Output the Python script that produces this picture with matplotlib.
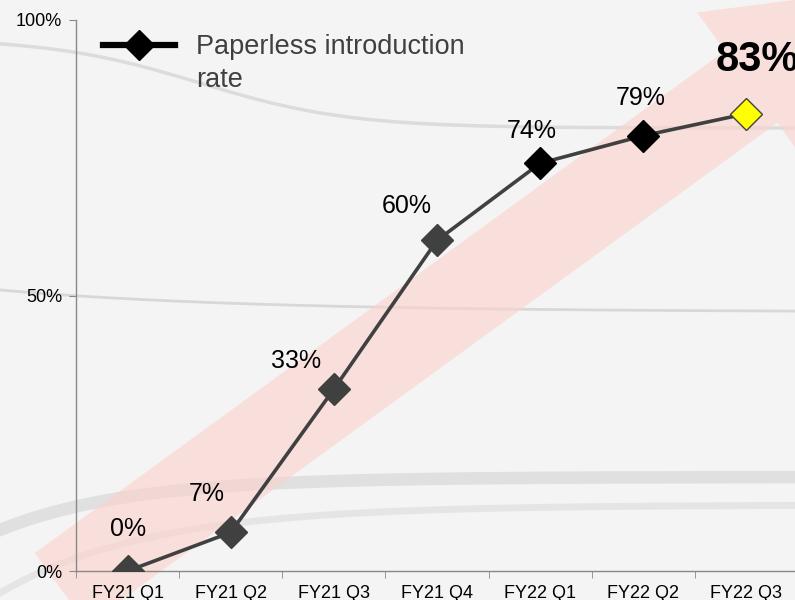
import numpy as np
import matplotlib
matplotlib.use('Agg')
import matplotlib.pyplot as plt
from matplotlib.patches import FancyArrow
from matplotlib.lines import Line2D

plt.rcParams['font.family'] = ['Liberation Sans', 'DejaVu Sans']

# Datos
quarters = ['FY21 Q1', 'FY21 Q2', 'FY21 Q3', 'FY21 Q4', 'FY22 Q1', 'FY22 Q2', 'FY22 Q3']
rate = [0, 7, 33, 60, 74, 79, 83]
series_lines = ['Paperless introduction', 'rate']

# Estilo de cada marcador y desplazamiento de etiquetas (en puntos)
face = ['#404040', '#404040', '#404040', '#404040', '#000000', '#000000', '#ffff00']
edge = ['#404040', '#404040', '#404040', '#404040', '#000000', '#000000', '#404040']
lab_dx = [0, -17, -27, -22, -6, -2, 8]
lab_dy = [30, 28, 20, 25, 23, 27, 39]

fig = plt.figure(figsize=(7.95, 6), dpi=100, facecolor='#f4f4f4')

# Fondo decorativo (curvas grises)
bg = fig.add_axes([0, 0, 1, 1], zorder=0)
bg.set_xlim(0, 795)
bg.set_ylim(600, 0)
bg.axis('off')
xs = np.linspace(0, 795, 300)
bg.plot(xs, 38 + 90 / (1 + np.exp(-(xs - 200) / 75)), color='#dcdcdc', lw=2.5)
bg.plot(xs, 290 + 22 * (1 - np.exp(-xs / 250)), color='#d8d8d8', lw=2)
bg.plot(xs, 477 + 53 * np.exp(-xs / 130), color='#dedede', lw=9, alpha=0.9)
bg.plot(xs, 505 + 88 * np.exp(-xs / 150), color='#e4e4e4', lw=5, alpha=0.9)

# Flecha rosa (en píxeles)
arrow = FancyArrow(61, 11, 826, 601, width=89, head_width=184, head_length=168,
                   length_includes_head=True, transform=None,
                   facecolor='#fcd2cc', edgecolor='none', alpha=0.6, zorder=1)
fig.patches.append(arrow)

ax = fig.add_axes([76 / 795, 29 / 600, 722 / 795, 551 / 600], zorder=2)
ax.patch.set_alpha(0)

x = np.arange(len(quarters))
y = np.array(rate) / 100
ax.plot(x, y, color='#404040', lw=2.6, zorder=3)
for i in range(len(x)):
    ax.plot(x[i], y[i], marker='D', ms=16, markerfacecolor=face[i],
            markeredgecolor=edge[i], markeredgewidth=1, zorder=4)
    if i == len(x) - 1:
        ax.annotate(f'{rate[i]}%', (x[i], y[i]), xytext=(lab_dx[i], lab_dy[i]),
                    textcoords='offset points', ha='center', va='center',
                    fontsize=30, fontweight='bold', color='black', zorder=5)
    else:
        ax.annotate(f'{rate[i]}%', (x[i], y[i]), xytext=(lab_dx[i], lab_dy[i]),
                    textcoords='offset points', ha='center', va='center',
                    fontsize=18, color='black', zorder=5)

ax.set_xlim(-0.5, len(quarters) - 0.5)
ax.set_ylim(0, 1)
ax.set_yticks([0, 0.5, 1])
ax.set_yticklabels(['0%', '50%', '100%'], fontsize=13)
ax.set_xticks(x)
ax.set_xticklabels(quarters, fontsize=13)
ax.set_xticks(np.arange(len(quarters) + 1) - 0.5, minor=True)
ax.tick_params(axis='x', which='major', length=0, pad=10)
ax.tick_params(axis='x', which='minor', length=5, color='#888888', direction='out')
ax.tick_params(axis='y', length=5, color='#888888', pad=5)
for s in ['top', 'right']:
    ax.spines[s].set_visible(False)
for s in ['left', 'bottom']:
    ax.spines[s].set_color('#888888')
    ax.spines[s].set_linewidth(1)

# Leyenda: el marcador alineado con la primera línea del texto
handle = Line2D([], [], color='black', lw=4.5, marker='D', ms=15)
blank = Line2D([], [], color='none')
leg = fig.legend([handle, blank], series_lines, loc='upper left',
                 bbox_to_anchor=(103 / 795, 1 - 34 / 600), bbox_transform=fig.transFigure,
                 frameon=False, fontsize=19.5, handlelength=2.65, handletextpad=0.8,
                 borderpad=0, borderaxespad=0, labelspacing=0.25,
                 labelcolor='#404040')
leg.set_zorder(5)

fig.savefig('out.png', dpi=100, facecolor=fig.get_facecolor())
